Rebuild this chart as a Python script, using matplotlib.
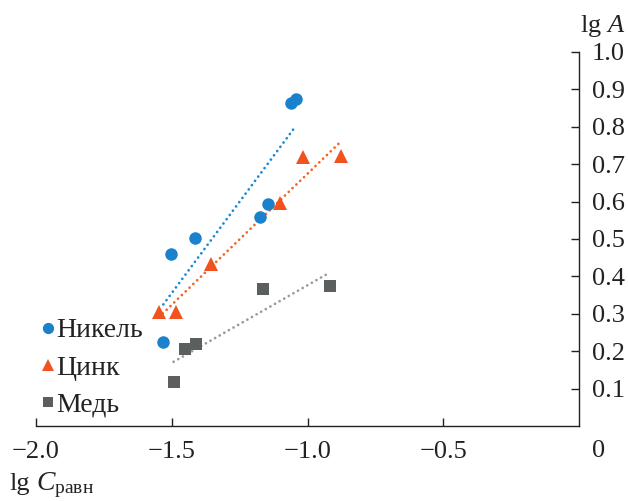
import numpy as np
import matplotlib
matplotlib.use("Agg")
import matplotlib.pyplot as plt

plt.rcParams['font.family'] = ['Liberation Serif', 'DejaVu Serif']
plt.rcParams['mathtext.fontset'] = 'custom'
plt.rcParams['mathtext.rm'] = 'Liberation Serif'
plt.rcParams['mathtext.it'] = 'Liberation Serif:italic'

# data (lg C_равн, lg A)
nickel_x = [-1.531, -1.503, -1.415, -1.176, -1.146, -1.060, -1.042]
nickel_y = [0.226, 0.460, 0.503, 0.558, 0.593, 0.864, 0.873]
zinc_x = [-1.547, -1.486, -1.354, -1.100, -1.016, -0.875]
zinc_y = [0.304, 0.304, 0.433, 0.597, 0.720, 0.722]
copper_x = [-1.493, -1.450, -1.412, -1.165, -0.918]
copper_y = [0.119, 0.207, 0.220, 0.366, 0.374]

labels = ["Никель", "Цинк", "Медь"]
xticks = [-2.0, -1.5, -1.0, -0.5]
yticks = [0.1, 0.2, 0.3, 0.4, 0.5, 0.6, 0.7, 0.8, 0.9, 1.0]

marker_colors = ["#1a82cc", "#f0531f", "#5b5f5f"]
line_colors = ["#1b8ad6", "#f26522", "#9a9a9a"]
markers = ["o", "^", "s"]
msizes = [9, 9.5, 8.5]
fs = 19
txt_color = '#222222'

fig = plt.figure(figsize=(6.28, 5.01), dpi=100)
ax = fig.add_axes([0.0573, 0.1493, 0.9220 - 0.0573, 0.8968 - 0.1493])

series = [(nickel_x, nickel_y), (zinc_x, zinc_y), (copper_x, copper_y)]

# dotted trend lines (least-squares fit over the data range)
for i, (xs, ys) in enumerate(series):
    xs = np.array(xs)
    ys = np.array(ys)
    coef = np.polyfit(xs, ys, 1)
    fit = np.poly1d(coef)
    xl = np.array([xs.min(), xs.max()])
    ax.plot(xl, fit(xl), color=line_colors[i], lw=2.0,
            linestyle=(0, (0.01, 1.9)), dash_capstyle='round',
            solid_capstyle='round', zorder=2)

handles = []
for i, (xs, ys) in enumerate(series):
    h, = ax.plot(xs, ys, linestyle='none', marker=markers[i], ms=msizes[i],
                 color=marker_colors[i], markeredgewidth=0, zorder=3,
                 label=labels[i])
    handles.append(h)

ax.set_xlim(-2.0, 0.0)
ax.set_ylim(0.0, 1.0)

for s in ['top', 'left']:
    ax.spines[s].set_visible(False)
for s in ['bottom', 'right']:
    ax.spines[s].set_linewidth(1.0)
    ax.spines[s].set_color(txt_color)

ax.yaxis.tick_right()
ax.set_xticks(xticks)
ax.set_xticklabels(["\u22122.0", "\u22121.5", "\u22121.0", "\u22120.5"])
ax.set_yticks(yticks)
ax.set_yticklabels([f"{v:.1f}" for v in yticks])
ax.tick_params(axis='x', direction='in', length=6, width=1.0, pad=11,
               labelsize=fs, colors=txt_color)
ax.tick_params(axis='y', direction='in', length=6, width=1.0, pad=9,
               labelsize=fs, colors=txt_color)

# stray "0" under the corner
fig.text(592 / 628, 1 - 451 / 501, "0", fontsize=fs, color=txt_color,
         ha='left', va='center')

# axis titles
fig.text(580 / 628, 1 - 32 / 501, r"lg $\mathit{A}$", fontsize=fs,
         color=txt_color, ha='left', va='baseline')
fig.text(9 / 628, 1 - 490 / 501, "lg", fontsize=fs, color=txt_color,
         ha='left', va='baseline')
fig.text(36 / 628, 1 - 490 / 501, r"$\mathit{C}_{\mathrm{равн}}$",
         fontsize=fs + 1, color=txt_color, ha='left', va='baseline')

leg = ax.legend(handles=handles, loc='upper left',
                bbox_to_anchor=(6 / 543, (426.2 - 318) / 374.5),
                frameon=False, fontsize=fs + 1, handlelength=0.42,
                handletextpad=0.08, labelspacing=0.42, borderpad=0,
                borderaxespad=0, markerscale=0.9)
for t in leg.get_texts():
    t.set_color(txt_color)

fig.savefig("out.png", dpi=100)
